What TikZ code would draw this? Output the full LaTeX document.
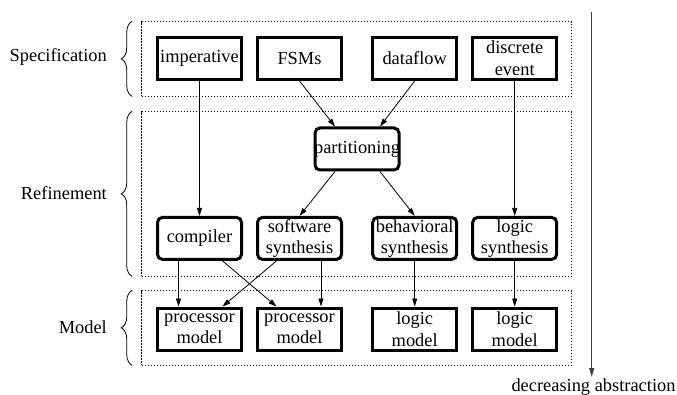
\documentclass[tikz,border=0pt]{standalone}
\usepackage{fontspec}
\setmainfont{Liberation Serif}
\usetikzlibrary{arrows.meta,calc,decorations.pathreplacing}

\tikzset{
  txt/.style={font=\fontsize{18.4}{21.5}\selectfont, inner sep=0pt, align=center},
  layer/.style={draw, line width=0.9pt, dash pattern=on 1.4pt off 1.6pt, inner sep=0pt},
  specbox/.style={txt, draw, line width=3pt, minimum width=84pt, minimum height=42pt},
  refbox/.style={specbox, rounded corners=5pt},
  modelbox/.style={specbox},
  flow/.style={-{Triangle[length=8pt,width=5pt]}, line width=0.8pt},
  levelbrace/.style={decorate, decoration={brace, amplitude=11pt}, line width=0.8pt},
}

\begin{document}
\begin{tikzpicture}[x=1pt, y=-1pt]
  \useasboundingbox (0,0) rectangle (677,395);

  % abstraction levels
  \node[layer, minimum width=430pt, minimum height=74.3pt]  (spec)  at (356.7,58.85)  {};
  \node[layer, minimum width=430pt, minimum height=164.3pt] (ref)   at (356.7,193.85) {};
  \node[layer, minimum width=430pt, minimum height=74.3pt]  (model) at (356.7,327.85) {};

  % braces and level names
  \draw[levelbrace] ($(spec.south west)+(-9,0)$)  -- ($(spec.north west)+(-9,0)$);
  \draw[levelbrace] ($(ref.south west)+(-9,0)$)   -- ($(ref.north west)+(-9,0)$);
  \draw[levelbrace] ($(model.south west)+(-9,0)$) -- ($(model.north west)+(-9,0)$);
  \node[txt, anchor=east] (lspec)  at (107,57)  {Specification};
  \node[txt, anchor=east] (lref)   at (107,193) {Refinement};
  \node[txt, anchor=east] (lmodel) at (107,327) {Model};

  % specification styles
  \node[specbox] (imp)  at (199.5,58.4) {imperative};
  \node[specbox] (fsm)  at (299.5,58.4) {FSMs};
  \node[specbox] (df)   at (414.7,58.4) {dataflow};
  \node[specbox] (de)   at (514.7,58.4) {discrete\\event};

  % refinement steps
  \node[refbox] (part) at (357,149)    {\makebox[80pt]{partitioning}};
  \node[refbox] (comp) at (199.5,238.4) {compiler};
  \node[refbox] (sws)  at (299.5,238.4) {software\\synthesis};
  \node[refbox] (bhs)  at (414.7,238.4) {behavioral\\synthesis};
  \node[refbox] (lgs)  at (514.7,238.4) {logic\\synthesis};

  % resulting models
  \node[modelbox] (pm1) at (199.5,329) {processor\\model};
  \node[modelbox] (pm2) at (299.5,329) {processor\\model};
  \node[modelbox] (lm1) at (414.7,329) {logic\\model};
  \node[modelbox] (lm2) at (514.7,329) {logic\\model};

  % flows between levels
  \draw[flow] (imp.south) -- (comp.north);
  \draw[flow] (fsm.south) -- ($(part.north)+(-22,0)$);
  \draw[flow] (df.south)  -- ($(part.north)+(23,0)$);
  \draw[flow] (de.south)  -- (lgs.north);
  \draw[flow] ($(part.south)+(-22,0)$) -- (sws.north);
  \draw[flow] ($(part.south)+(23,0)$)  -- (bhs.north);
  \draw[flow] ($(comp.south)+(-21,0)$) -- ($(pm1.north)+(-21,0)$);
  \draw[flow] ($(comp.south)+(23,0)$)  -- ($(pm2.north)+(-23,0)$);
  \draw[flow] ($(sws.south)+(-23,0)$)  -- ($(pm1.north)+(23,0)$);
  \draw[flow] ($(sws.south)+(21.5,0)$) -- ($(pm2.north)+(21.5,0)$);
  \draw[flow] (bhs.south) -- (lm1.north);
  \draw[flow] (lgs.south) -- (lm2.north);

  % abstraction axis
  \coordinate (axtop) at (591.7,11.7);
  \coordinate (axbot) at (591.7,377);
  \draw[-{Triangle[length=9pt,width=5pt]}, line width=1.3pt, black!75] (axtop) -- (axbot);
  \node[txt, anchor=north] (axlabel) at (593.5,378.5) {decreasing abstraction};
\end{tikzpicture}
\end{document}
